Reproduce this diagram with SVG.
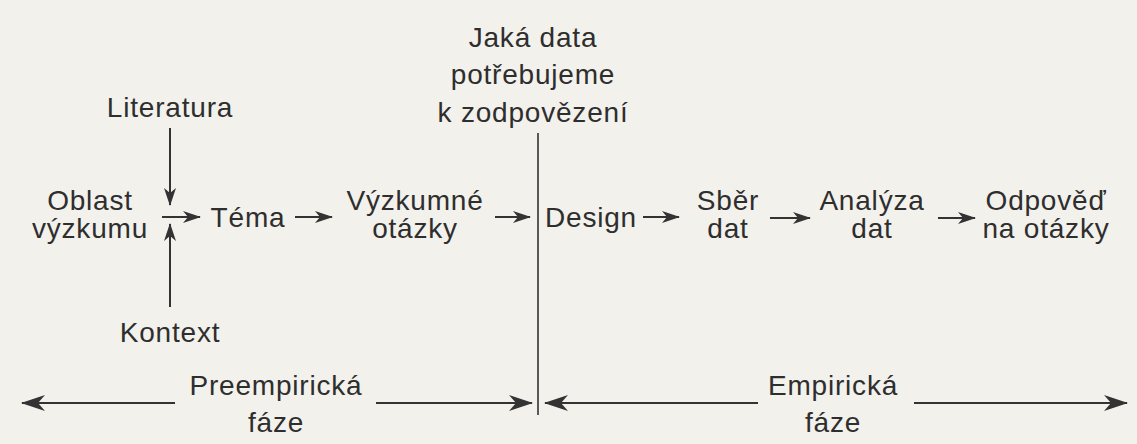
<svg xmlns="http://www.w3.org/2000/svg" width="1137" height="444" viewBox="0 0 1137 444">
  <style>
    text { font-family: "Liberation Sans", Arial, Helvetica, sans-serif; font-size: 28px; fill: #2e2e2e; text-anchor: middle; letter-spacing: 0.8px; }
    .ln { stroke: #333; stroke-width: 2; fill: none; }
    .div { stroke: #333; stroke-width: 1.6; fill: none; }
  </style>
  <defs>
    <marker id="ah" markerUnits="userSpaceOnUse" viewBox="0 0 18 12" markerWidth="18" markerHeight="12" refX="17" refY="6" orient="auto">
      <path d="M0,0 L18,6 L0,12 L5,6 Z" fill="#333"/>
    </marker>
    <marker id="ahb" markerUnits="userSpaceOnUse" viewBox="0 0 24 16" markerWidth="24" markerHeight="16" refX="23" refY="8" orient="auto">
      <path d="M0,0 L24,8 L0,16 L7,8 Z" fill="#333"/>
    </marker>
  </defs>
  <rect width="1137" height="444" fill="#f3f1ec"/>

  <g id="connectors">
    <line class="ln" x1="170" y1="128" x2="170" y2="205" marker-end="url(#ah)"/>
    <line class="ln" x1="170" y1="307" x2="170" y2="224" marker-end="url(#ah)"/>
    <line class="ln" x1="162" y1="217" x2="200" y2="217" marker-end="url(#ah)"/>
    <line class="ln" x1="295" y1="217" x2="332" y2="217" marker-end="url(#ah)"/>
    <line class="ln" x1="495" y1="217" x2="530" y2="217" marker-end="url(#ah)"/>
    <line class="ln" x1="643" y1="217" x2="679" y2="217" marker-end="url(#ah)"/>
    <line class="ln" x1="770" y1="218" x2="810" y2="218" marker-end="url(#ah)"/>
    <line class="ln" x1="938" y1="218" x2="975" y2="218" marker-end="url(#ah)"/>
    <line class="div" x1="538" y1="133" x2="538" y2="415"/>
    <line class="ln" x1="175" y1="403" x2="22" y2="403" marker-end="url(#ahb)"/>
    <line class="ln" x1="376" y1="403" x2="532" y2="403" marker-end="url(#ahb)"/>
    <line class="ln" x1="758" y1="403" x2="545" y2="403" marker-end="url(#ahb)"/>
    <line class="ln" x1="914" y1="403" x2="1127" y2="403" marker-end="url(#ahb)"/>
  </g>

  <g id="n-literatura"><text x="170" y="117">Literatura</text></g>
  <g id="n-oblast"><text x="90" y="210">Oblast</text><text x="90" y="238">výzkumu</text></g>
  <g id="n-kontext"><text x="170" y="342">Kontext</text></g>
  <g id="n-tema"><text x="248" y="227">Téma</text></g>
  <g id="n-otazky"><text x="415" y="210">Výzkumné</text><text x="415" y="238">otázky</text></g>
  <g id="n-jaka"><text x="533" y="47">Jaká data</text><text x="533" y="84">potřebujeme</text><text x="533" y="122">k zodpovězení</text></g>
  <g id="n-design"><text x="591" y="227">Design</text></g>
  <g id="n-sber"><text x="728" y="210">Sběr</text><text x="728" y="238">dat</text></g>
  <g id="n-analyza"><text x="872" y="210">Analýza</text><text x="872" y="238">dat</text></g>
  <g id="n-odpoved"><text x="1046" y="210">Odpověď</text><text x="1046" y="238">na otázky</text></g>
  <g id="n-preemp"><text x="276" y="395">Preempirická</text><text x="276" y="432">fáze</text></g>
  <g id="n-emp"><text x="833" y="395">Empirická</text><text x="833" y="432">fáze</text></g>
</svg>
